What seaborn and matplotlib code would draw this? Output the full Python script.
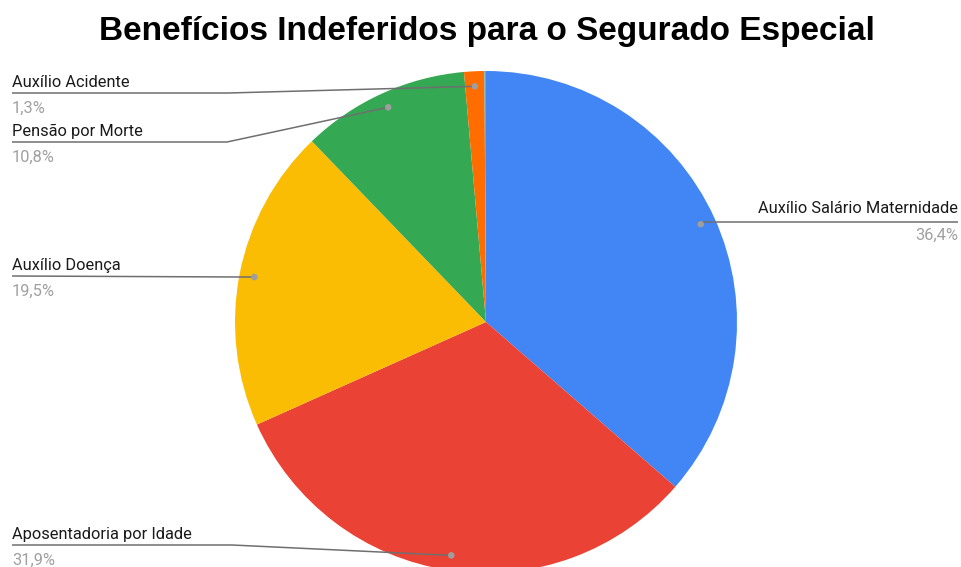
import numpy as np
import matplotlib
matplotlib.use("Agg")
import matplotlib.pyplot as plt
import seaborn as sns

# Benefit categories, in the order the slices are drawn (clockwise from 12 o'clock)
categories = [
    "Auxílio Salário Maternidade",
    "Aposentadoria por Idade",
    "Auxílio Doença",
    "Pensão por Morte",
    "Auxílio Acidente",
    "Outros",
]
shares = [36.4, 31.9, 19.5, 10.8, 1.3, 0.1]
share_labels = ["36,4%", "31,9%", "19,5%", "10,8%", "1,3%", ""]
title = "Benefícios Indeferidos para o Segurado Especial"

sns.set_theme(style="white")
plt.rcParams["font.family"] = ["Roboto", "DejaVu Sans"]

palette = sns.color_palette(["#4285F4", "#EA4335", "#FBBC04", "#34A853", "#FF6D01", "#46BDC6"])

W, H = 962, 567
fig = plt.figure(figsize=(W / 100, H / 100), dpi=100)
ax = fig.add_axes([0, 0, 1, 1])

cx, cy, R = 486, H - 322, 251
ax.pie(shares, colors=palette, startangle=90, counterclock=False,
       center=(cx, cy), radius=R,
       wedgeprops=dict(linewidth=0))
ax.set_xlim(0, W)
ax.set_ylim(0, H)
ax.set_aspect("equal")
ax.axis("off")

# Leader-line layout: (row of the rule under the name, x of the elbow, side)
layout = {
    "Auxílio Salário Maternidade": (222, None, "right"),
    "Aposentadoria por Idade": (545, 232, "left"),
    "Auxílio Doença": (276, None, "left"),
    "Pensão por Morte": (142, 227, "left"),
    "Auxílio Acidente": (93, 228, "left"),
}

line_col = "#6f6f6f"
name_col = "#1a1a1a"
value_col = "#a0a0a0"
fs = 11.8

cum = np.cumsum([0] + shares[:-1])
total = sum(shares)
for cat, s, c0, lab in zip(categories, shares, cum, share_labels):
    if cat not in layout:
        continue
    mid = np.deg2rad((c0 + s / 2) / total * 360)
    dx = cx + 0.94 * R * np.sin(mid)
    dy = cy + 0.94 * R * np.cos(mid)
    row, elbow, side = layout[cat]
    ly = H - row
    if side == "left":
        xs = [12, elbow, dx] if elbow else [12, dx]
        ys = [ly, ly, dy] if elbow else [ly, dy]
        ax.plot(xs, ys, color=line_col, lw=1.1, solid_capstyle="butt", zorder=4)
        ax.text(12, ly + 6, cat, ha="left", va="baseline", fontsize=fs, color=name_col)
        ax.text(12, ly - 20, lab, ha="left", va="baseline", fontsize=fs, color=value_col)
    else:
        ax.plot([dx, 958], [ly, ly], color=line_col, lw=1.1, solid_capstyle="butt", zorder=4)
        ax.text(958, ly + 9, cat, ha="right", va="baseline", fontsize=fs, color=name_col)
        ax.text(958, ly - 18, lab, ha="right", va="baseline", fontsize=fs, color=value_col)
    ax.scatter([dx], [dy], s=22, color="#9e9e9e", edgecolors="none", zorder=5)

ax.text(486.5, H - 40, title, ha="center", va="baseline", fontsize=24,
        fontweight="bold", family=["Liberation Sans", "DejaVu Sans"], color="#000000")

fig.savefig("out.png", dpi=100, facecolor="white")
